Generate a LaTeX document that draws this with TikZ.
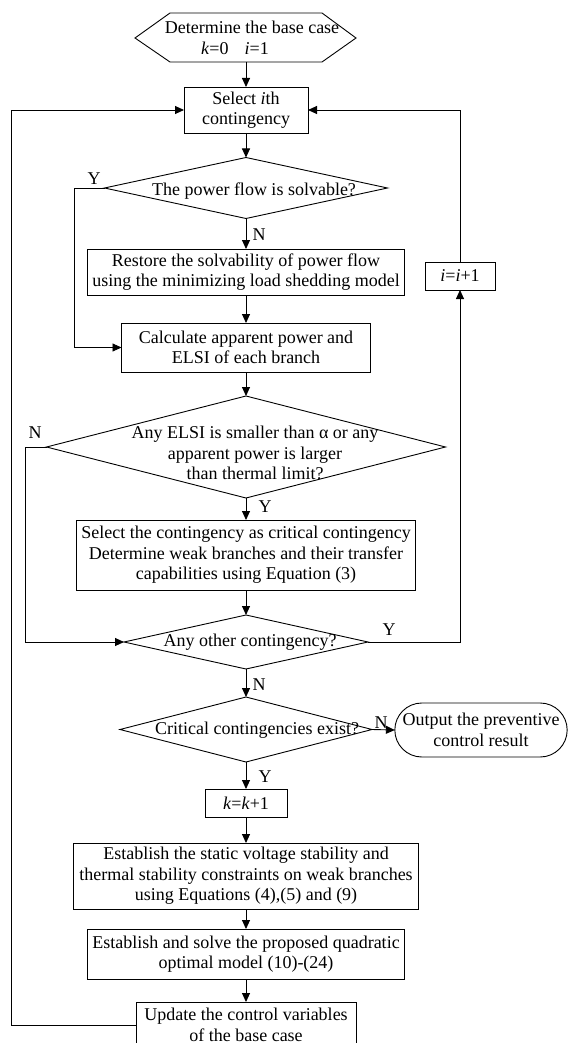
\documentclass[tikz,border=0pt]{standalone}
\usepackage{fontspec}
\setmainfont{Liberation Serif}
\usetikzlibrary{shapes.geometric,shapes.misc,arrows.meta}
\begin{document}
\begin{tikzpicture}[x=1pt,y=-1pt,
  font=\fontsize{18}{20.5}\selectfont,
  ln/.style={line width=0.9pt},
  box/.style={draw, line width=0.9pt, align=center, inner sep=2pt, outer sep=0pt},
  rbox/.style={draw, rounded rectangle, line width=0.9pt, align=center, inner sep=2pt, outer sep=0pt},
  dia/.style={draw, diamond, line width=0.9pt, inner sep=0pt, outer sep=0pt},
  lbl/.style={inner sep=0pt, align=center},
  arr/.style={line width=0.9pt, -{Triangle[length=9pt,width=8pt]}}]
\useasboundingbox (0,0) rectangle (567,1043);
\fill[white] (0,0) rectangle (567,1043);

% start hexagon
\node[lbl] (start) at (246,38) {\kern12pt Determine the base case\\ \textit{k}=0\hspace{0.9em}\textit{i}=1\kern22pt};
\draw[ln] (135,38) -- (170,13) -- (322,13) -- (356,38) -- (322,62) -- (170,62) -- cycle;
\coordinate (startb) at (246,62);

% helper columns for loop lines
\coordinate (xl1) at (74,0);
\coordinate (xl2) at (25,0);
\coordinate (xl3) at (11,0);

\node[box, minimum width=124, minimum height=46] (sel) at (246,110) {Select \textit{i}th\\contingency};
\node[dia, minimum width=283, minimum height=61] (d1) at (246,188) {};
\node[lbl] (d1t) at (254,191) {The power flow is solvable?};
\node[box, minimum width=317, minimum height=46] (res) at (246,272) {Restore the solvability of power flow\\using the minimizing load shedding model};
\node[box, minimum width=249, minimum height=49] (calc) at (246,347.5) {Calculate apparent power and\\ELSI of each branch};
\node[dia, minimum width=399, minimum height=102] (d2) at (246,447) {};
\node[lbl] (d2t) at (255,453) {Any ELSI is smaller than α or any\\apparent power is larger\\than thermal limit?};
\node[box, minimum width=339, minimum height=70] (crit) at (246,555) {Select the contingency as critical contingency\\Determine weak branches and their transfer\\capabilities using Equation (3)};
\node[dia, minimum width=244, minimum height=54] (d3) at (246,642) {};
\node[lbl] (d3t) at (250,642) {Any other contingency?};
\node[dia, minimum width=252, minimum height=65] (d4) at (246,729.5) {};
\node[lbl] (d4t) at (257,730) {Critical contingencies exist?};
\node[rbox, minimum width=170, minimum height=54] (out) at (481,730) {Output the preventive\\control result};
\node[box, minimum width=82, minimum height=28] (kk) at (246,803) {\textit{k}=\textit{k}+1};
\node[box, minimum width=345, minimum height=66] (est) at (246,876) {Establish the static voltage stability and\\thermal stability constraints on weak branches\\using Equations (4),(5) and (9)};
\node[box, minimum width=317, minimum height=50] (sol) at (246,954) {Establish and solve the proposed quadratic\\optimal model (10)-(24)};
\node[box, minimum width=220, minimum height=46] (upd) at (246,1025) {Update the control variables\\of the base case};
\node[box, minimum width=70, minimum height=28] (inc) at (460,276) {\textit{i}=\textit{i}+1};

% connectors
\draw[arr] (startb) -- (sel.north);
\draw[arr] (sel.south) -- (d1.north);
\draw[arr] (d1.west) -- (d1.west -| xl1) |- (calc.west);
\draw[arr] (d1.south) -- (res.north);
\draw[arr] (res.south) -- (calc.north);
\draw[arr] (calc.south) -- (d2.north);
\draw[arr] (d2.west) -- (d2.west -| xl2) |- (d3.west);
\draw[arr] (d2.south) -- (crit.north);
\draw[arr] (crit.south) -- (d3.north);
\draw[arr] (d3.east) -| (inc.south);
\draw[arr] (inc.north) |- (sel.east);
\draw[arr] (d3.south) -- (d4.north);
\draw[arr] (d4.east) -- (out.west);
\draw[arr] (d4.south) -- (kk.north);
\draw[arr] (kk.south) -- (est.north);
\draw[arr] (est.south) -- (sol.north);
\draw[arr] (sol.south) -- (upd.north);
\draw[arr] (upd.west) -- (upd.west -| xl3) |- (sel.west);

% branch labels
\node[lbl] (y1) at (94,179) {Y};
\node[lbl] (n1) at (259,235) {N};
\node[lbl] (n2) at (35,433) {N};
\node[lbl] (y2) at (265,507) {Y};
\node[lbl] (y3) at (389,630) {Y};
\node[lbl] (n3) at (259,685) {N};
\node[lbl] (n4) at (381,723) {N};
\node[lbl] (y4) at (265,777) {Y};
\end{tikzpicture}
\end{document}
